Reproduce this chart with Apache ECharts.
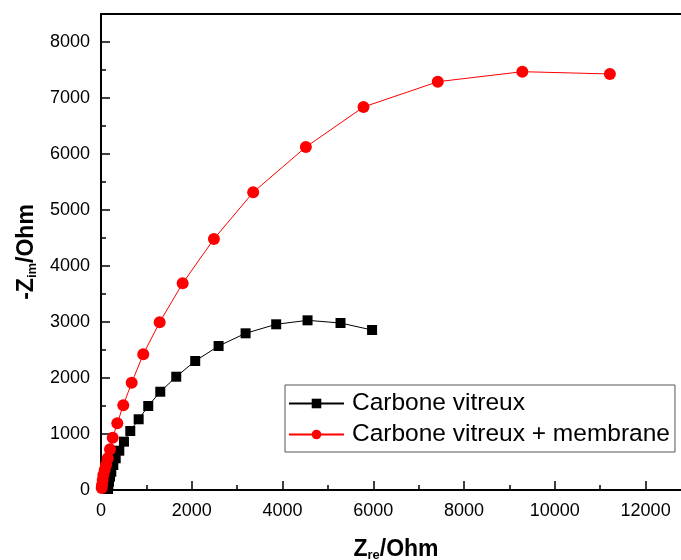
<!DOCTYPE html>
<html>
<head>
<meta charset="utf-8">
<script src="https://cdn.jsdelivr.net/npm/echarts@6/dist/echarts.min.js"></script>
<style>
  html, body { margin: 0; padding: 0; background: #fff; }
  #chart { width: 681px; height: 560px; }
</style>
</head>
<body>
<div id="chart"></div>
<script>
// Nyquist data (Z_re, -Z_im in Ohm)
const seriesNames = ['Carbone vitreux', 'Carbone vitreux + membrane'];

const cvRe = [154, 161, 176, 198, 227, 271, 324, 403, 506, 645, 830, 1041, 1306, 1658, 2076, 2591, 3186, 3860, 4551, 5277, 5973];
const cvIm = [18, 71, 148, 238, 327, 446, 566, 702, 863, 1054, 1263, 1500, 1755, 2023, 2304, 2571, 2798, 2959, 3030, 2982, 2857];

const memRe = [15, 22, 37, 51, 81, 110, 148, 198, 258, 359, 491, 676, 931, 1292, 1799, 2488, 3353, 4514, 5784, 7420, 9284, 11213];
const memIm = [36, 89, 179, 268, 357, 446, 566, 727, 934, 1191, 1513, 1916, 2423, 2995, 3691, 4482, 5316, 6125, 6839, 7291, 7470, 7429];

const font = 'Liberation Sans, Arial, sans-serif';

function pairs(xs, ys) {
  return xs.map((x, i) => [x, ys[i]]);
}

const chart = echarts.init(document.getElementById('chart'));

const axisCommon = {
  axisLine: { show: true, onZero: false, lineStyle: { color: '#000', width: 2 } },
  axisTick: { show: true, inside: true, length: 9, lineStyle: { color: '#000', width: 1.5 } },
  minorTick: { show: true, splitNumber: 2, length: 5, lineStyle: { color: '#000', width: 1.5 } },
  splitLine: { show: false },
  axisLabel: { color: '#000', fontSize: 18, fontFamily: font, showMaxLabel: false, formatter: v => String(v) }
};

const nameRich = {
  b: { fontSize: 23, fontWeight: 'bold', fontFamily: font, color: '#000' },
  s: { fontSize: 13, fontWeight: 'bold', fontFamily: font, color: '#000', padding: [12, 0, 0, 0] }
};

chart.setOption({
  animation: false,
  backgroundColor: '#fff',
  // plot frame runs past the right edge of the picture
  grid: { left: 101, top: 14, width: 590, height: 476, outerBoundsMode: 'none', containLabel: false },
  legend: {
    orient: 'vertical',
    left: 285, top: 385,
    padding: [6, 5, 5, 3],
    itemWidth: 55, itemHeight: 12, itemGap: 6,
    backgroundColor: '#fff',
    borderColor: '#555', borderWidth: 1,
    textStyle: { fontSize: 24.5, lineHeight: 24, fontFamily: font, color: '#000', padding: [0, 0, 0, 3] },
    data: seriesNames
  },
  xAxis: [
    Object.assign({}, axisCommon, {
      type: 'value', min: 0, max: 13000, interval: 2000,
      axisLabel: Object.assign({}, axisCommon.axisLabel, { margin: 12 }),
      name: '{b|Z}{s|re}{b|/Ohm}',
      nameLocation: 'middle', nameGap: 47,
      nameTextStyle: { rich: nameRich }
    }),
    {
      type: 'value', position: 'top', min: 0, max: 13000,
      axisLine: { show: true, onZero: false, lineStyle: { color: '#000', width: 2 } },
      axisTick: { show: false }, axisLabel: { show: false }, splitLine: { show: false }
    }
  ],
  yAxis: Object.assign({}, axisCommon, {
    type: 'value', min: 0, max: 8500, interval: 1000,
    axisLabel: Object.assign({}, axisCommon.axisLabel, { margin: 11 }),
    name: '{b|-Z}{s|im}{b|/Ohm}',
    nameLocation: 'middle', nameGap: 62, nameRotate: 90,
    nameTextStyle: { rich: nameRich }
  }),
  series: [
    {
      name: seriesNames[0], type: 'line',
      data: pairs(cvRe, cvIm),
      symbol: 'rect', symbolSize: 10,
      itemStyle: { color: '#000' },
      lineStyle: { color: '#000', width: 1 }
    },
    {
      name: seriesNames[1], type: 'line',
      data: pairs(memRe, memIm),
      symbol: 'circle', symbolSize: 12,
      itemStyle: { color: '#ff0000' },
      lineStyle: { color: '#ff0000', width: 1 }
    }
  ]
});
</script>
</body>
</html>
